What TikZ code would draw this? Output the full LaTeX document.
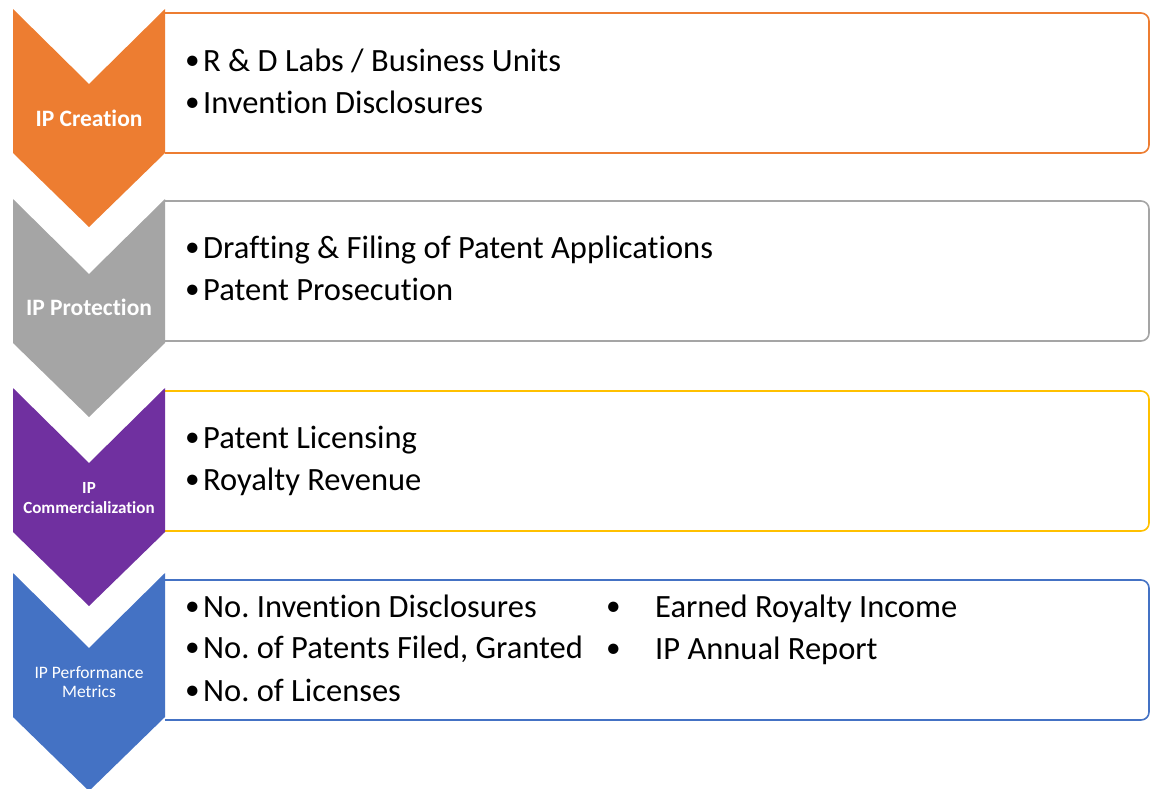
\documentclass[tikz,border=0pt]{standalone}
\usepackage{fontspec}
\setmainfont{Carlito}[Ligatures=NoCommon]
\definecolor{iporange}{RGB}{237, 125, 49}
\definecolor{ipgray}{RGB}{165, 165, 165}
\definecolor{ippurple}{RGB}{112, 48, 160}
\definecolor{ipblue}{RGB}{68, 114, 196}
\definecolor{ipgold}{RGB}{255, 192, 0}
\tikzstyle{stage_label}=[text=white, inner sep=0pt, anchor=base]
\tikzstyle{stage_box}=[fill=white, rounded corners=8pt, line width=1.6pt]
\tikzstyle{stage_item}=[anchor=base west, inner sep=0pt, font=\fontsize{32.5}{40}\selectfont]
\newcommand{\itemdot}{\raisebox{1.5pt}{\scalebox{0.9}{\textbullet}}}
\newcommand{\itembullet}{\makebox[18pt][l]{\itemdot}}
\frenchspacing

\begin{document}
\begin{tikzpicture}[x=1pt, y=-1pt]
  \useasboundingbox (0,0) rectangle (1150,788);

  % Text boxes first, open on the left where the arrows cover them
  \foreach \boxtop/\col in {13/iporange, 201/ipgray, 391/ipgold, 580/ipblue} {
      \draw[stage_box, draw=\col] (165,\boxtop) -- (1149,\boxtop) -- (1149,\boxtop+140) -- (165,\boxtop+140);
  }

  % Chevron arrows of the four stages
  \foreach \top/\col in {9/iporange, 199/ipgray, 388/ippurple, 573/ipblue} {
      \fill[fill=\col] (13,\top) -- (89,\top+75) -- (165,\top) -- (165,\top+144)
          -- (89,\top+218) -- (13,\top+144) -- cycle;
  }

  % Stage names on the arrows
  \node[stage_label, font=\bfseries\fontsize{23.5}{28}\selectfont] (creation_label) at (89,126) {IP Creation};
  \node[stage_label, font=\bfseries\fontsize{23.5}{28}\selectfont] (protection_label) at (89,315) {IP Protection};
  \node[stage_label, font=\bfseries\fontsize{17}{20}\selectfont] (commercial_label_a) at (89,493) {IP};
  \node[stage_label, font=\bfseries\fontsize{17}{20}\selectfont] (commercial_label_b) at (89,513) {Commercialization};
  \node[stage_label, font=\fontsize{17.5}{20}\selectfont] (metrics_label_a) at (89,678) {IP Performance};
  \node[stage_label, font=\fontsize{17.5}{20}\selectfont] (metrics_label_b) at (89,697) {Metrics};

  % Bullet items in the boxes
  \node[stage_item] (creation_item_a) at (185,71) {\itembullet R \& D Labs / Business Units};
  \node[stage_item] (creation_item_b) at (185,113) {\itembullet Invention Disclosures};
  \node[stage_item] (protection_item_a) at (185,258) {\itembullet Drafting \& Filing of Patent Applications};
  \node[stage_item] (protection_item_b) at (185,300) {\itembullet Patent Prosecution};
  \node[stage_item] (commercial_item_a) at (185,448) {\itembullet Patent Licensing};
  \node[stage_item] (commercial_item_b) at (185,490) {\itembullet Royalty Revenue};
  \node[stage_item] (metrics_item_a) at (185,617) {\itembullet No. Invention Disclosures};
  \node[stage_item] (metrics_item_b) at (185,658) {\itembullet No. of Patents Filed, Granted};
  \node[stage_item] (metrics_item_c) at (185,701) {\itembullet No. of Licenses};
  % second column of the metrics box, with a wider gap after the bullet
  \node[stage_item] (metrics_item_d) at (606,617) {\makebox[49pt][l]{\itemdot}Earned Royalty Income};
  \node[stage_item] (metrics_item_e) at (606,659) {\makebox[49pt][l]{\itemdot}IP Annual Report};

\end{tikzpicture}
\end{document}
